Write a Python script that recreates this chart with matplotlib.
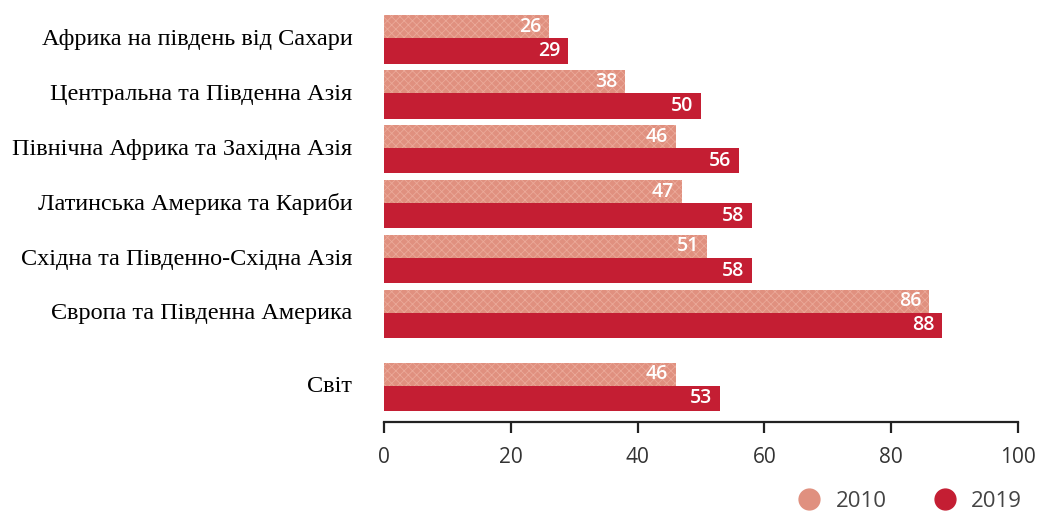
import matplotlib.pyplot as plt
from matplotlib.lines import Line2D
from matplotlib.transforms import blended_transform_factory

# дані
regions = ["Африка на південь від Сахари", "Центральна та Південна Азія",
           "Північна Африка та Західна Азія", "Латинська Америка та Кариби",
           "Східна та Південно-Східна Азія", "Європа та Південна Америка", "Світ"]
v2010 = [26, 38, 46, 47, 51, 86, 46]
v2019 = [29, 50, 56, 58, 58, 88, 53]
ticks = [0, 20, 40, 60, 80, 100]

c2010 = "#E0907F"
c2019 = "#C41E33"

plt.rcParams["hatch.linewidth"] = 0.6

fig = plt.figure(figsize=(10.37, 5.14), dpi=100)
ax = fig.add_axes([384 / 1037, 92 / 514, 634 / 1037, 422 / 514])

# позиції груп (світ трохи окремо)
ypos = [0, 1, 2, 3, 4, 5, 6.33]
h1, h2 = 0.42, 0.46

for i, y in enumerate(ypos):
    ax.barh(y - h1 / 2, v2010[i], height=h1, color=c2010, edgecolor="#EBA999",
            hatch="xxxx", linewidth=0)
    ax.barh(y + h2 / 2, v2019[i], height=h2, color=c2019, linewidth=0)
    ax.text(v2010[i] - 1.2, y - h1 / 2, str(v2010[i]), color="white", ha="right",
            va="center", fontsize=14, family="Open Sans", fontweight="semibold")
    ax.text(v2019[i] - 1.2, y + h2 / 2, str(v2019[i]), color="white", ha="right",
            va="center", fontsize=14, family="Open Sans", fontweight="semibold")

trans = blended_transform_factory(ax.transAxes, ax.transData)
for i, y in enumerate(ypos):
    ax.text(-0.05, y + 0.02, regions[i], transform=trans, ha="right", va="center",
            fontsize=17.5, family="Liberation Serif", color="black")

ax.set_xlim(0, 100)
ax.set_ylim(6.99, -0.70)
ax.set_xticks(ticks)
ax.set_xticklabels([str(t) for t in ticks], family="Open Sans", fontsize=15, color="#333333")
ax.set_yticks([])
for s in ["top", "right", "left"]:
    ax.spines[s].set_visible(False)
ax.spines["bottom"].set_color("#222222")
ax.spines["bottom"].set_linewidth(1.6)
ax.tick_params(axis="x", length=8, width=1.6, color="#222222", pad=10)

handles = [Line2D([], [], marker="o", linestyle="", markersize=15, color=c2010),
           Line2D([], [], marker="o", linestyle="", markersize=15, color=c2019)]
leg = fig.legend(handles, ["2010", "2019"], loc="lower right", bbox_to_anchor=(1.005, -0.035),
                 ncol=2, frameon=False, handletextpad=0.2, columnspacing=1.6,
                 prop={"family": "Open Sans", "size": 16})
for t in leg.get_texts():
    t.set_color("#444444")

fig.savefig("out.png", dpi=100)
